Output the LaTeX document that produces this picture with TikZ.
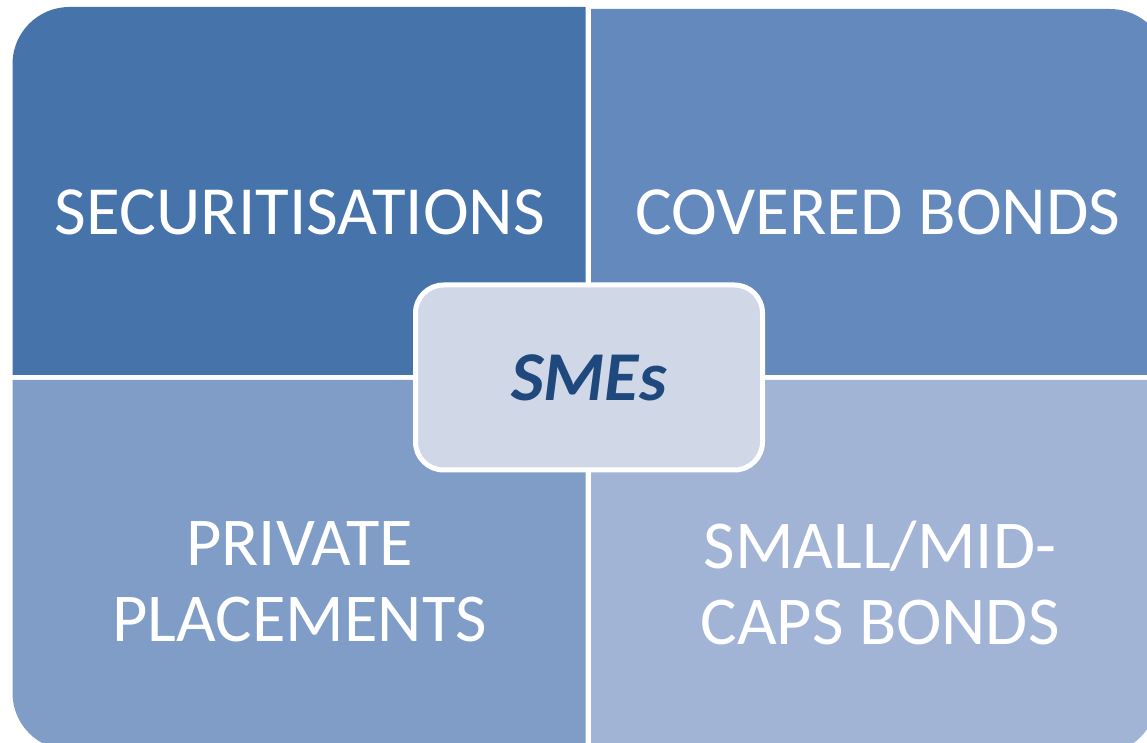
\documentclass[tikz,border=0pt]{standalone}
\usepackage{fontspec}
\setmainfont{Carlito}
\definecolor{quadA}{HTML}{4674AA}
\definecolor{quadB}{HTML}{6489BC}
\definecolor{quadC}{HTML}{809DC7}
\definecolor{quadD}{HTML}{A1B4D6}
\definecolor{hubfill}{HTML}{D0D8E8}
\definecolor{hubtext}{HTML}{1F497D}
\begin{document}
\begin{tikzpicture}[x=1pt,y=1pt,
  bigtext/.style={text=white,inner sep=0pt,font=\fontsize{69}{84}\selectfont},
  pairtext/.style={text=white,inner sep=0pt,align=center,font=\fontsize{68.5}{76}\selectfont},
  hub/.style={draw=white,line width=5pt,fill=hubfill,rounded corners=28pt,
    minimum width=347pt,minimum height=185pt,inner sep=0pt,text=hubtext,
    font=\fontsize{70}{84}\selectfont\bfseries\itshape}]
\useasboundingbox (0,0) rectangle (1147,743);
\clip (0,0) rectangle (1147,743);
\fill[white] (0,0) rectangle (1147,743);

% four quadrants, each rounded only at its outer corner
\fill[quadA] (585.5,368) -- (12.5,368) -- (12.5,679)
  arc[start angle=180,end angle=90,radius=57] -- (585.5,736) -- cycle;
\fill[quadB] (591,368) -- (591,734) -- (1110,734)
  arc[start angle=90,end angle=0,radius=57] -- (1167,368) -- cycle;
\fill[quadC] (585.5,363) -- (585.5,-7) -- (69.5,-7)
  arc[start angle=270,end angle=180,radius=57] -- (12.5,363) -- cycle;
\fill[quadD] (591,363) -- (1157,363) -- (1157,46)
  arc[start angle=0,end angle=-90,radius=57] -- (591,-11) -- cycle;

% quadrant labels
\node[bigtext,anchor=base] (sec) at (300,508) {SECURITISATIONS};
\node[bigtext,anchor=base] (cov) at (878,508) {COVERED BONDS};
\node[pairtext] (priv) at (299.5,161) {PRIVATE\\PLACEMENTS};
\node[pairtext] (caps) at (880,160) {SMALL/MID-\\CAPS BONDS};

% central hub
\node[hub] (sme) at (589,365.5) {SMEs};
\end{tikzpicture}
\end{document}
